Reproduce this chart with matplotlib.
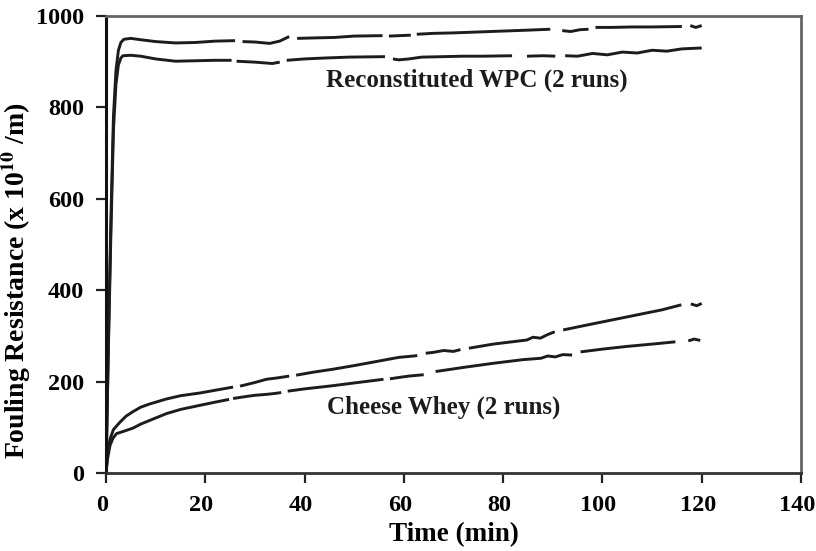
import numpy as np
import matplotlib
matplotlib.use('Agg')
import matplotlib.pyplot as plt
from matplotlib.transforms import ScaledTranslation

nan = np.nan

# Reconstituted WPC, run 1 (upper curve); nan marks the breaks in the trace
wpc1_t = [0, 0.5, 1.0, 1.5, 2.0, 2.5, 3.0, 3.6, 5, 7, 10, 14, 18, 22, 26, 26.7, 27.5,
          30, 33, 35, 36.9, 37.7, 38.5, 42, 46, 50, 55.7, 56.3, 57, 61.4, 62, 62.6,
          66, 70, 75, 80, 85, 89.5, 90.7, 91.9, 93.6, 95.5, 97.2, 97.9, 98.6,
          102, 106, 110, 116, 116.8, 117.7, 118.8, 120]
wpc1_r = [0, 300, 560, 780, 880, 925, 942, 949, 951, 948, 944, 941, 942, 945, 946, nan, 944,
          943, 940, 945, 955, nan, 951, 952, 953, 956, 957, nan, 956, 958, nan, 960,
          962, 963, 965, 967, 969, 971, nan, 968, 966, 970, 971, nan, 975,
          975, 976, 976, 977, nan, 979, 975, 979]

# Reconstituted WPC, run 2 (lower curve)
wpc2_t = [0, 0.5, 1.0, 1.5, 2.0, 2.5, 3.0, 3.4, 5, 7, 10, 14, 18, 22, 25.3, 25.8, 26.3,
          30, 33.5, 35, 35.7, 36.4, 40, 44, 49, 56.2, 57, 57.8, 59, 61, 63.6,
          68, 72, 76, 81.8, 83.6, 84.8, 88, 90.5, 91.5, 92.5,
          95, 98, 101, 104, 107, 110, 113, 116, 120]
wpc2_r = [0, 280, 530, 750, 850, 893, 908, 913, 914, 912, 906, 901, 902, 903, 903, nan, 901,
          899, 896, 899, nan, 903, 906, 908, 910, 911, nan, 906, 904, 906, 910,
          911, 912, 912, 913, nan, 912, 913, 912, nan, 913,
          912, 918, 915, 921, 919, 925, 923, 928, 930]

# Cheese whey, run 1 (upper curve)
wh1_t = [0, 0.3, 0.8, 1.5, 2.8, 4, 5.4, 7, 8.8, 12.2, 15, 18.9, 22, 25.6, 26.3, 27,
         30, 32.3, 34.5, 36.9, 37.6, 38.3, 42, 45.7, 50, 55, 59, 62, 62.7, 63.5, 64.4,
         66, 68, 70, 71.4, 72.2, 73.1, 78, 84.8, 86, 87.5, 89, 90.4, 91.2, 92.1,
         97, 102, 107, 112, 115.9, 116.9, 117.8, 119, 120]
wh1_r = [0, 40, 74, 95, 111, 124, 134, 144, 151, 162, 169, 175, 181, 188, nan, 190,
         198, 205, 208, 212, nan, 214, 221, 227, 235, 245, 253, 256, 257, nan, 262,
         264, 268, 266, 270, nan, 273, 282, 291, 297, 295, 303, 309, nan, 313,
         324, 335, 346, 357, 368, nan, 370, 366, 371]

# Cheese whey, run 2 (lower curve)
wh2_t = [0, 0.3, 0.8, 1.4, 2.1, 3.5, 5.4, 7, 8.8, 12.2, 15, 18.9, 22, 24.8, 25.2, 25.6,
         28, 30, 32.3, 34, 35.3, 36, 36.6, 40, 45.7, 50, 55.9, 56.6, 57.2, 59, 61, 64,
         65.2, 66.4, 72, 78, 84, 87.6, 89, 90.5, 92, 93.9, 94.7, 95.6,
         100, 105, 110, 114.7, 116, 117.3, 118.5, 119.7]
wh2_r = [0, 30, 60, 76, 86, 91, 98, 107, 115, 130, 139, 148, 155, 161, nan, 163,
         167, 170, 172, 174, 176, nan, 179, 184, 191, 197, 205, nan, 206, 209, 212, 215,
         nan, 222, 231, 240, 248, 251, 256, 254, 259, 258, nan, 265,
         271, 277, 282, 287, nan, 289, 293, 290]

x_ticks = [0, 20, 40, 60, 80, 100, 120, 140]
y_ticks = [0, 200, 400, 600, 800, 1000]

plt.rcParams['font.family'] = ['Liberation Serif', 'DejaVu Serif']
plt.rcParams['font.weight'] = 'bold'
plt.rcParams['mathtext.fontset'] = 'stix'

fig = plt.figure(figsize=(8.16, 5.51), dpi=100)
ax = fig.add_axes([0.1299, 0.1416, 0.8517, 0.8294])

line_kw = dict(color='#1c1c1c', lw=2.1, solid_capstyle='butt')
for t, r in [(wpc1_t, wpc1_r), (wpc2_t, wpc2_r), (wh1_t, wh1_r), (wh2_t, wh2_r)]:
    ax.plot(t, r, **line_kw)

ax.set_xlim(0, 140)
ax.set_ylim(0, 1000)
ax.set_xticks(x_ticks)
ax.set_yticks(y_ticks)
ax.tick_params(direction='out', length=7, width=1.6, labelsize=17.5, pad=9, color='#222222')
shift = ScaledTranslation(-4 / 100, 0, fig.dpi_scale_trans)
for lab in ax.get_xticklabels():
    lab.set_fontweight('bold')
    lab.set_transform(lab.get_transform() + shift)
for lab in ax.get_yticklabels():
    lab.set_fontweight('bold')

ax.spines['left'].set_color('#111111')
ax.spines['left'].set_linewidth(2.2)
ax.spines['bottom'].set_color('#333333')
ax.spines['bottom'].set_linewidth(2.0)
for s in ['top', 'right']:
    ax.spines[s].set_color('#666666')
    ax.spines[s].set_linewidth(2.0)

ax.set_xlabel('Time (min)', fontsize=19.5, fontweight='bold', labelpad=4)
ax.set_ylabel(r'Fouling Resistance (x 10$^{\mathbf{10}}$ /m)', fontsize=20,
              fontweight='bold')
ax.yaxis.set_label_coords(-0.105, 0.42)

ax.text(74.7, 860, 'Reconstituted WPC (2 runs)', fontsize=18, fontweight='bold',
        ha='center', va='center', color='#1c1c1c')
ax.text(68.1, 144, 'Cheese Whey (2 runs)', fontsize=18, fontweight='bold',
        ha='center', va='center', color='#1c1c1c')

fig.savefig('out.png', dpi=100)
